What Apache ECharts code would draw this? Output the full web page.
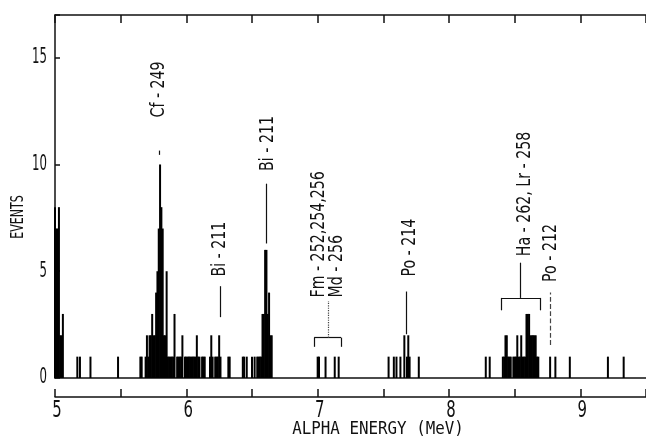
<!DOCTYPE html>
<html>
<head>
<meta charset="utf-8">
<script src="https://cdn.jsdelivr.net/npm/echarts@6/dist/echarts.min.js"></script>
<style>
  html, body { margin: 0; padding: 0; background: #fff; }
  #chart { width: 646px; height: 443px; }
</style>
</head>
<body>
<div id="chart"></div>
<script>
// Alpha spectrum: channel energy (MeV) and number of events in that channel
const energies = [
  5.00, 5.01, 5.02, 5.03, 5.04, 5.05, 5.06,
  5.17, 5.19, 5.27, 5.48,
  5.65, 5.66, 5.69, 5.70, 5.71, 5.72, 5.73, 5.74, 5.75, 5.76, 5.77, 5.78, 5.79,
  5.80, 5.81, 5.82, 5.83, 5.84, 5.85, 5.86, 5.87, 5.88, 5.89, 5.90, 5.91,
  5.93, 5.94, 5.95, 5.96, 5.97, 5.99, 6.00, 6.01, 6.02, 6.03, 6.04, 6.05, 6.06,
  6.07, 6.08, 6.09, 6.10, 6.12, 6.13, 6.14, 6.18, 6.19, 6.20,
  6.22, 6.23, 6.24, 6.25, 6.26, 6.32, 6.33,
  6.43, 6.44, 6.46, 6.50, 6.52, 6.54, 6.55, 6.56, 6.57, 6.58, 6.59, 6.60, 6.61,
  6.62, 6.63, 6.64, 6.65,
  7.00, 7.01, 7.06, 7.13, 7.16,
  7.54, 7.58, 7.60, 7.63, 7.66, 7.68, 7.69, 7.70, 7.77,
  8.28, 8.31,
  8.41, 8.42, 8.43, 8.44, 8.45, 8.46, 8.47, 8.49, 8.50, 8.51, 8.52, 8.53,
  8.54, 8.55, 8.56, 8.57, 8.58, 8.59, 8.60, 8.61, 8.62, 8.63, 8.64, 8.65, 8.66,
  8.67, 8.68,
  8.77, 8.81, 8.92, 9.21, 9.33
];
const counts = [
  8, 7, 7, 8, 2, 2, 3,
  1, 1, 1, 1,
  1, 1, 1, 2, 1, 2, 2, 3, 2, 2, 4, 5, 7,
  10, 8, 7, 2, 2, 5, 1, 1, 1, 1, 1, 3,
  1, 1, 1, 1, 2, 1, 1, 1, 1, 1, 1, 1, 1,
  1, 2, 1, 1, 1, 1, 1, 1, 2, 1,
  1, 1, 1, 2, 1, 1, 1,
  1, 1, 1, 1, 1, 1, 1, 1, 1, 3, 3, 6, 6,
  3, 4, 2, 2,
  1, 1, 1, 1, 1,
  1, 1, 1, 1, 2, 1, 2, 1, 1,
  1, 1,
  1, 1, 2, 2, 1, 1, 1, 1, 1, 1, 2, 1,
  1, 2, 1, 1, 1, 3, 3, 3, 2, 2, 2, 2, 2,
  1, 1,
  1, 1, 1, 1, 1
];

// Labelled tick values
const xTickLabels = [5, 6, 7, 8, 9];
const yTickLabels = [0, 5, 10, 15];

// Peak identifications: text, energy, and the event level where the text starts
const peakNames = ['Cf - 249', 'Bi - 211', 'Bi - 211', 'Fm - 252,254,256', 'Md - 256',
                   'Po - 214', 'Ha - 262, Lr - 258', 'Po - 212'];
const peakEnergies = [5.79, 6.26, 6.62, 7.01, 7.145, 7.70, 8.58, 8.775];
const peakLabelBase = [12.2, 4.75, 9.7, 3.77, 3.77, 4.75, 5.7, 4.5];

// Pointer lines and brackets tying the names to their peaks: [start, end, dash]
const guideSegments = [
  [[6.258, 2.85], [6.258, 4.3], 'solid'],
  [[6.611, 6.3], [6.611, 9.1], 'solid'],
  [[5.797, 10.45], [5.797, 10.65], 'solid'],
  [[6.973, 1.46], [6.973, 1.89], 'solid'],
  [[6.973, 1.89], [7.178, 1.89], 'solid'],
  [[7.178, 1.89], [7.178, 1.46], 'solid'],
  [[7.08, 1.89], [7.08, 3.6], 'dotted'],
  [[7.672, 2.05], [7.672, 4.05], 'solid'],
  [[8.40, 3.17], [8.40, 3.75], 'solid'],
  [[8.40, 3.75], [8.696, 3.75], 'solid'],
  [[8.696, 3.75], [8.696, 3.17], 'solid'],
  [[8.545, 3.75], [8.545, 5.4], 'solid'],
  [[8.772, 1.55], [8.772, 4.0], 'dashed']
];

const INK = '#111';
const COND = "'DejaVu Sans Condensed', 'Liberation Sans Narrow', 'DejaVu Sans', sans-serif";
const MONO = "'DejaVu Sans Mono', 'Liberation Mono', monospace";

const chart = echarts.init(document.getElementById('chart'), null, { renderer: 'canvas' });

const axisLineStyle = { color: INK, width: 1.5 };

// Narrow, plotter-style lettering: condensed glyphs squeezed along the reading direction
function narrowText(x, y, text, size, squeeze, opts) {
  return Object.assign({
    type: 'text', x: x, y: y, scaleX: squeeze, scaleY: 1,
    style: { text: text, fill: INK, font: size + 'px ' + COND, align: 'center', verticalAlign: 'middle' }
  }, opts || {});
}

chart.setOption({
  animation: false,
  backgroundColor: '#fff',
  grid: { left: 55, right: 0, top: 15, bottom: 65, containLabel: false },
  xAxis: [
    {
      // energy scale below the spectrum
      type: 'value', min: 5, max: 9.5, interval: 0.5, position: 'bottom', offset: 19,
      axisLine: { show: true, onZero: false, lineStyle: axisLineStyle },
      axisTick: { show: true, inside: true, length: 8, lineStyle: axisLineStyle },
      axisLabel: { show: false },
      splitLine: { show: false }
    },
    {
      // frame along the top
      type: 'value', min: 5, max: 9.5, interval: 0.5, position: 'top',
      axisLine: { show: true, onZero: false, lineStyle: axisLineStyle },
      axisTick: { show: true, inside: true, length: 8, lineStyle: axisLineStyle },
      axisLabel: { show: false },
      splitLine: { show: false }
    },
    {
      // zero-count baseline of the histogram
      type: 'value', min: 5, max: 9.5, position: 'bottom', offset: 0,
      axisLine: { show: true, onZero: false, lineStyle: axisLineStyle },
      axisTick: { show: false },
      axisLabel: { show: false },
      splitLine: { show: false }
    }
  ],
  yAxis: {
    type: 'value', min: 0, max: 17, interval: 5,
    axisLine: { show: true, onZero: false, lineStyle: axisLineStyle },
    axisTick: { show: true, inside: true, length: 5, lineStyle: axisLineStyle },
    axisLabel: { show: false },
    splitLine: { show: false }
  },
  graphic: [
    narrowText(19, 217, 'EVENTS', 17, 0.72, { rotation: Math.PI / 2 }),
    {
      type: 'text', x: 378, y: 429, scaleX: 0.88,
      style: { text: 'ALPHA ENERGY (MeV)', fill: INK, font: '18px ' + MONO, align: 'center', verticalAlign: 'middle' }
    }
  ],
  series: [
    {
      name: 'events',
      type: 'bar',
      xAxisIndex: 0,
      yAxisIndex: 0,
      barWidth: 2,
      silent: true,
      itemStyle: { color: '#000' },
      data: energies.map((e, i) => [e, counts[i]])
    },
    {
      // energy tick numbers under the lower axis
      name: 'xTickText',
      type: 'custom',
      xAxisIndex: 0,
      yAxisIndex: 0,
      silent: true,
      clip: false,
      data: xTickLabels.map(v => [v, 0]),
      renderItem: (params, api) => {
        const p = api.coord([api.value(0), api.value(1)]);
        return narrowText(p[0] + 2, p[1] + 33, String(xTickLabels[params.dataIndex]), 23, 0.72);
      }
    },
    {
      // event-count tick numbers left of the vertical axis
      name: 'yTickText',
      type: 'custom',
      xAxisIndex: 0,
      yAxisIndex: 0,
      silent: true,
      clip: false,
      data: yTickLabels.map(v => [5, v]),
      renderItem: (params, api) => {
        const p = api.coord([api.value(0), api.value(1)]);
        const el = narrowText(p[0] - 8, p[1], String(yTickLabels[params.dataIndex]), 21, 0.62);
        el.style.align = 'right';
        return el;
      }
    },
    {
      // peak names, reading upward from their start level
      name: 'peaks',
      type: 'custom',
      xAxisIndex: 0,
      yAxisIndex: 0,
      silent: true,
      clip: false,
      data: peakEnergies.map((e, i) => [e, peakLabelBase[i]]),
      renderItem: (params, api) => {
        const p = api.coord([api.value(0), api.value(1)]);
        const el = narrowText(p[0], p[1], peakNames[params.dataIndex], 19, 0.83, { rotation: Math.PI / 2 });
        el.style.align = 'left';
        return el;
      },
      markLine: {
        silent: true,
        symbol: ['none', 'none'],
        label: { show: false },
        data: guideSegments.map(s => [
          { coord: s[0], lineStyle: { color: s[2] === 'solid' ? INK : '#444', width: 1.2, type: s[2] } },
          { coord: s[1] }
        ])
      }
    }
  ]
});
</script>
</body>
</html>
